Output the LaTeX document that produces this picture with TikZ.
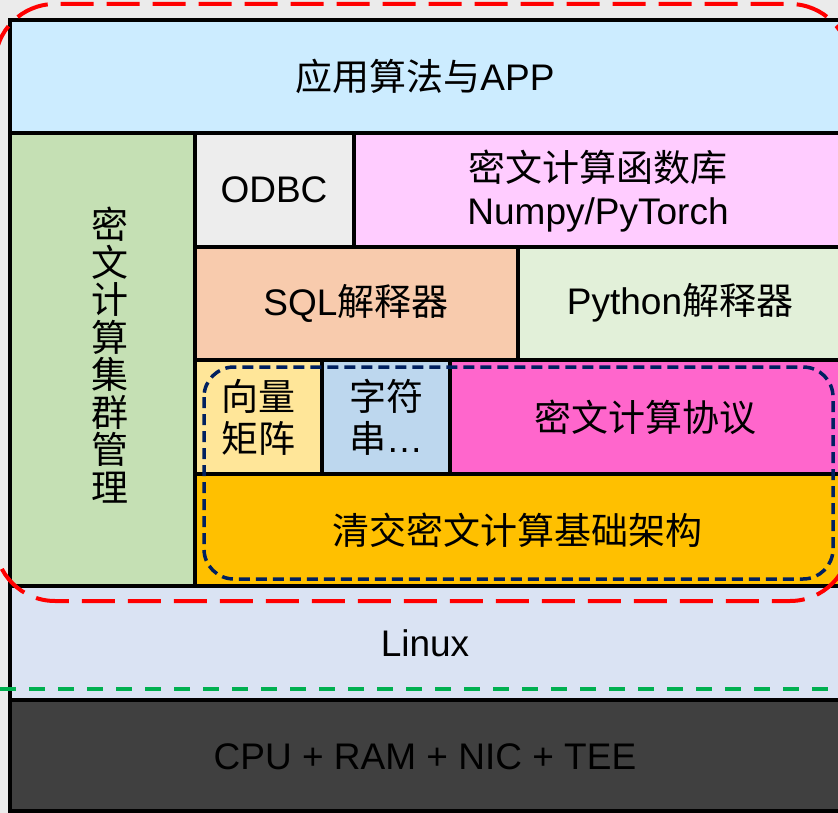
\documentclass[tikz,border=0pt]{standalone}
\usepackage{fontspec}
\setmainfont{Liberation Sans}
\newfontfamily\cjk{Noto Sans CJK SC}
\begin{document}
\begin{tikzpicture}[x=1pt,y=-1pt,
  cell/.style={draw=black, line width=4pt, inner sep=0pt, outer sep=0pt, anchor=north west, align=center,
    font=\fontsize{37}{44}\selectfont},
  reddash/.style={draw=red, line width=4pt, dash pattern=on 33pt off 13pt},
  bluedash/.style={draw={rgb,255:red,0;green,32;blue,96}, line width=3.5pt, dash pattern=on 11pt off 6pt},
  greendash/.style={draw={rgb,255:red,0;green,176;blue,80}, line width=4pt, dash pattern=on 16pt off 13pt}]
\definecolor{cApp}{HTML}{CCECFF}
\definecolor{cMgr}{HTML}{C5E0B4}
\definecolor{cOdbc}{HTML}{EDEDED}
\definecolor{cLib}{HTML}{FFCCFF}
\definecolor{cSql}{HTML}{F8CBAD}
\definecolor{cPy}{HTML}{E2F0D9}
\definecolor{cVec}{HTML}{FFE699}
\definecolor{cStr}{HTML}{BDD7EE}
\definecolor{cProt}{HTML}{FF66CC}
\definecolor{cBase}{HTML}{FFC000}
\definecolor{cLin}{HTML}{DAE3F3}
\definecolor{cCpu}{HTML}{404040}
\definecolor{cBg}{HTML}{EBEBEB}
\useasboundingbox (0,0) rectangle (838,813);
\clip (0,0) rectangle (838,813);
\fill[cBg] (0,0) rectangle (838,813);
% layers
\node[cell, fill=cApp, minimum width=832pt, minimum height=113pt] (app) at (10.3,20.5) {};
\node[cell, fill=cMgr, minimum width=184.7pt, minimum height=452.5pt] (mgr) at (10.3,133.5) {};
\node[cell, fill=cOdbc, minimum width=159pt, minimum height=113.5pt] (odbc) at (195,133.5) {};
\node[cell, fill=cLib, minimum width=490pt, minimum height=113.5pt] (lib) at (354,133.5) {};
\node[cell, fill=cSql, minimum width=323pt, minimum height=113pt] (sql) at (195,247) {};
\node[cell, fill=cPy, minimum width=326pt, minimum height=113pt] (py) at (518,247) {};
\node[cell, fill=cVec, minimum width=127pt, minimum height=113.5pt] (vec) at (195,360) {};
\node[cell, fill=cStr, minimum width=128pt, minimum height=113.5pt] (str) at (322,360) {};
\node[cell, fill=cProt, minimum width=394pt, minimum height=113.5pt] (prot) at (450,360) {};
\node[cell, fill=cBase, minimum width=649pt, minimum height=112.5pt] (base) at (195,473.5) {};
\node[cell, fill=cLin, minimum width=832pt, minimum height=114pt] (lin) at (10.3,586) {};
\node[cell, fill=cCpu, minimum width=832pt, minimum height=111pt] (cpu) at (10.3,700) {};
% texts
\begin{scope}[every node/.style={font=\fontsize{37}{44}\selectfont, align=center, inner sep=0pt}]
\node (tApp) at (425,76) {{\cjk 应用算法与}APP};
\node[font=\cjk\fontsize{37}{37.5}\selectfont] (tMgr) at (110,355) {密\\文\\计\\算\\集\\群\\管\\理};
\node (tOdbc) at (274,190) {ODBC};
\node[font=\fontsize{37}{43}\selectfont] (tLib) at (598,191) {{\cjk 密文计算函数库}\\Numpy/PyTorch};
\node (tSql) at (356,303) {SQL{\cjk 解释器}};
\node (tPy) at (680,303) {Python{\cjk 解释器}};
\node[font=\cjk\fontsize{37}{42}\selectfont] (tVec) at (258,417) {向量\\矩阵};
\node[font=\fontsize{37}{42}\selectfont] (tStr) at (386,417) {{\cjk 字符}\\{\cjk 串}…};
\node (tProt) at (645,417) {{\cjk 密文计算协议}};
\node (tBase) at (517,530) {{\cjk 清交密文计算基础架构}};
\node (tLin) at (425,643) {Linux};
\node (tCpu) at (425,757) {CPU + RAM + NIC + TEE};
\end{scope}
% dashed outlines
\draw[reddash, rounded corners=60pt] (-5,4) rectangle (850,601);
\draw[bluedash, rounded corners=30pt] (204,367) rectangle (833,579);
\draw[greendash] (0,689) -- (838,689);
\end{tikzpicture}
\end{document}
